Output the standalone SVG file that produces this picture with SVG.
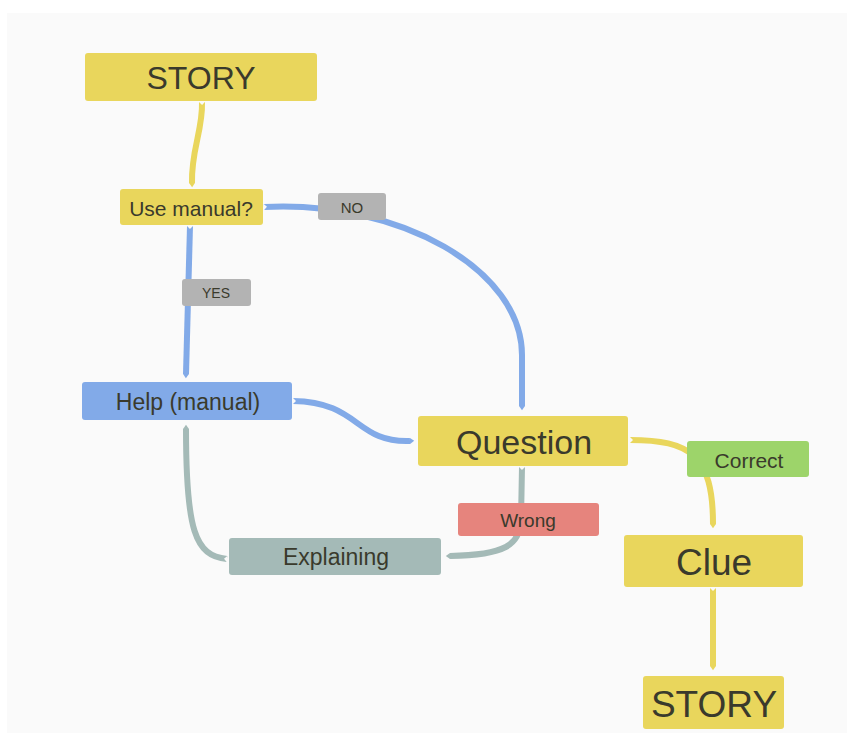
<svg xmlns="http://www.w3.org/2000/svg" width="851" height="733" viewBox="0 0 851 733">
<style>
.t{font-family:"Liberation Sans",Arial,sans-serif;fill:#3a3a2c;text-anchor:middle;dominant-baseline:central}
.y{fill:#e9d65c}
.b{fill:#82aae8}
.g{fill:#b3b3b3}
.r{fill:#e6847d}
.s{fill:#a4bab7}
.gr{fill:#9dd46a}
.c{fill:none;stroke-width:6;stroke-linecap:butt}
.cy{stroke:#e9d65c}
.cb{stroke:#82aae8}
.cs{stroke:#a4bab7}
</style>
<defs>
<marker id="ty" viewBox="0 0 10 10" refX="0" refY="5" markerWidth="1" markerHeight="1" orient="auto" markerUnits="strokeWidth"><path d="M0,0 L7,5 L0,10Z" fill="#e9d65c"/></marker>
<marker id="tb" viewBox="0 0 10 10" refX="0" refY="5" markerWidth="1" markerHeight="1" orient="auto" markerUnits="strokeWidth"><path d="M0,0 L7,5 L0,10Z" fill="#82aae8"/></marker>
<marker id="ts" viewBox="0 0 10 10" refX="0" refY="5" markerWidth="1" markerHeight="1" orient="auto" markerUnits="strokeWidth"><path d="M0,0 L7,5 L0,10Z" fill="#a4bab7"/></marker>
<marker id="n" viewBox="0 0 10 10" refX="0" refY="5" markerWidth="1" markerHeight="1" orient="auto" markerUnits="strokeWidth"><path d="M-1,-1 L5,5 L-1,11Z" fill="#fafafa"/></marker>
</defs>
<rect x="0" y="0" width="851" height="733" fill="#ffffff"/>
<rect x="7" y="13" width="840" height="720" fill="#fafafa"/>
<g id="connectors">
<path class="c cy" d="M202,102 C203,130 191,150 192,183" marker-start="url(#n)" marker-end="url(#ty)"/>
<path class="c cb" d="M264,207 C400,200 522,270 522,355 L522,406" marker-start="url(#n)" marker-end="url(#tb)"/>
<path class="c cb" d="M190,226 L186,374" marker-start="url(#n)" marker-end="url(#tb)"/>
<path class="c cb" d="M293,401 C360,402 355,443 410,441" marker-start="url(#n)" marker-end="url(#tb)"/>
<path class="c cs" d="M522,467 L521,520 C520,545 505,555 450,556" marker-start="url(#n)" marker-end="url(#ts)"/>
<path class="c cs" d="M227,559 C195,556 186,530 186,429" marker-start="url(#n)" marker-end="url(#ts)"/>
<path class="c cy" d="M630,440 C690,440 713,455 713,524" marker-start="url(#n)" marker-end="url(#ty)"/>
<path class="c cy" d="M713,588 L713,666" marker-start="url(#n)" marker-end="url(#ty)"/>
</g>
<g id="story1"><rect class="y" x="85" y="53" width="232" height="48" rx="3"/><text class="t" x="201" y="78" font-size="32">STORY</text></g>
<g id="usemanual"><rect class="y" x="120" y="189" width="143" height="36" rx="3"/><text class="t" x="191" y="208" font-size="21">Use manual?</text></g>
<g id="no"><rect class="g" x="318" y="193" width="68" height="27" rx="3"/><text class="t" x="352" y="207" font-size="15">NO</text></g>
<g id="yes"><rect class="g" x="182" y="279" width="69" height="27" rx="3"/><text class="t" x="216" y="293" font-size="14">YES</text></g>
<g id="help"><rect class="b" x="82" y="382" width="210" height="38" rx="3"/><text class="t" x="188" y="402" font-size="23">Help (manual)</text></g>
<g id="question"><rect class="y" x="418" y="416" width="210" height="50" rx="3"/><text class="t" x="524" y="442" font-size="34">Question</text></g>
<g id="wrong"><rect class="r" x="458" y="503" width="141" height="33" rx="3"/><text class="t" x="528" y="520" font-size="19">Wrong</text></g>
<g id="explaining"><rect class="s" x="229" y="538" width="212" height="37" rx="3"/><text class="t" x="336" y="557" font-size="23">Explaining</text></g>
<g id="correct"><rect class="gr" x="687" y="441" width="122" height="36" rx="3"/><text class="t" x="749" y="460" font-size="21">Correct</text></g>
<g id="clue"><rect class="y" x="624" y="535" width="179" height="52" rx="3"/><text class="t" x="714" y="562" font-size="37">Clue</text></g>
<g id="story2"><rect class="y" x="643" y="676" width="141" height="53" rx="3"/><text class="t" x="714" y="704" font-size="37">STORY</text></g>
</svg>
